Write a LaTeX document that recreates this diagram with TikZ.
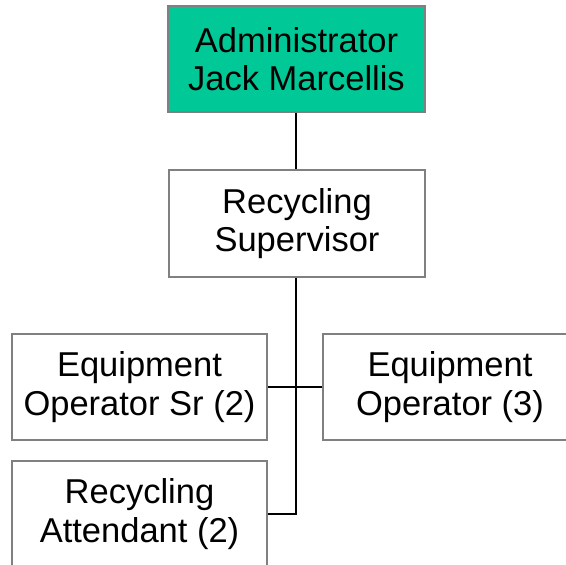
\documentclass[tikz,border=0pt]{standalone}
\usepackage{fontspec}
\setmainfont{Liberation Sans}
\definecolor{headfill}{RGB}{0,200,150}
\definecolor{boxline}{RGB}{128,128,128}
\begin{document}
\begin{tikzpicture}[x=1pt,y=-1pt,
  orgbox/.style={draw=boxline, line width=1.5pt, fill=white, inner sep=0pt,
    align=center, font=\fontsize{34.5}{38.5}\selectfont},
  link/.style={draw=black, line width=1.6pt}]
  \useasboundingbox (0,0) rectangle (566,565);
  \clip (0,0) rectangle (566,565);
  % boxes given by corners (left, top) and size
  \node[orgbox, fill=headfill, minimum width=257pt, minimum height=106pt] (admin) at (296.5,59) {Administrator\\Jack Marcellis};
  \node[orgbox, minimum width=256pt, minimum height=107pt] (sup) at (297,223.5) {Recycling\\Supervisor};
  \node[orgbox, minimum width=255pt, minimum height=106pt] (eqsr) at (139.5,387) {Equipment\\Operator Sr (2)};
  \node[orgbox, minimum width=254pt, minimum height=106pt] (eqop) at (450,387) {Equipment\\Operator (3)};
  \node[orgbox, minimum width=255pt, minimum height=106pt] (att) at (139.5,514) {Recycling\\Attendant (2)};
  % connectors
  \coordinate (trunk) at (296,514);
  \draw[link] (admin.south -| trunk) -- (sup.north -| trunk);
  \draw[link] (sup.south -| trunk) -- (trunk) -- (att.east);
  \draw[link] (eqsr.east) -- (eqop.west);
\end{tikzpicture}
\end{document}
